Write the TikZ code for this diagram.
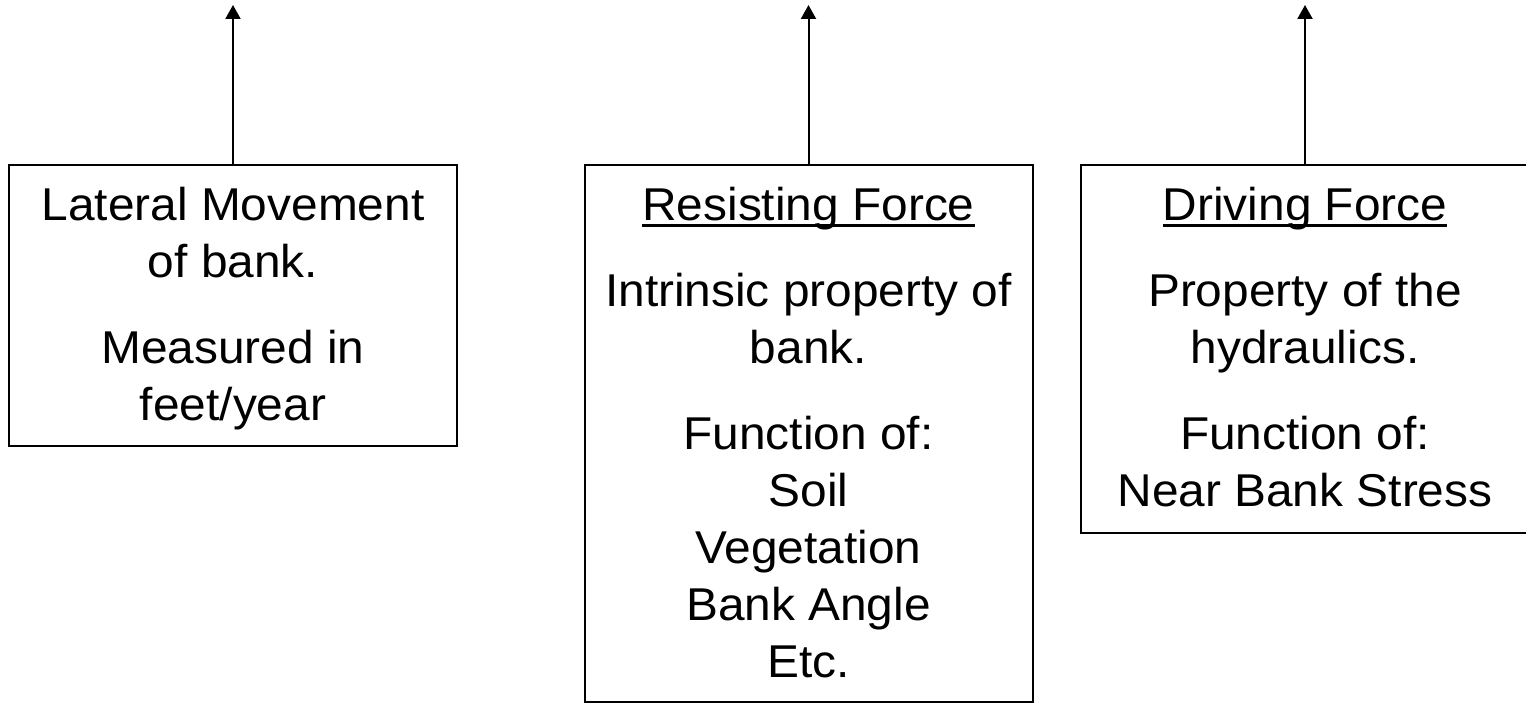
\documentclass[tikz,border=0pt]{standalone}
\usepackage{fontspec}
\setmainfont[FakeStretch=1.04]{Liberation Sans}
\usetikzlibrary{arrows.meta}
\usetikzlibrary{positioning}

\newcommand{\ulhead}[1]{\setbox0=\hbox{#1}\rlap{\rule[-3.2pt]{\wd0}{1.8pt}}\box0}

\begin{document}
\begin{tikzpicture}[x=0.5pt,y=-0.5pt]
        \useasboundingbox (0,0) rectangle (1526,704);
        \begin{scope}[every node/.style={rectangle,draw,line width=1pt,minimum width=224pt,anchor=north,inner sep=0pt}]
            \node[minimum height=140.5pt] (lateral) at (233,164) {};
            \node[minimum height=268.5pt] (resist) at (808.5,164) {};
            \node[minimum height=184pt] (drive) at (1305,164) {};
        \end{scope}
        \begin{scope}[every node/.style={align=center,inner sep=0pt,font=\fontsize{23}{28.5}\selectfont}]
            \node[below=11.5pt of lateral.north] (lateraltext) {Lateral Movement\\of bank.\\[14.5pt]Measured in\\feet/year};
            \node[below=11.5pt of resist.north] (resisttext) {\ulhead{Resisting Force}\\[14.5pt]Intrinsic property of\\bank.\\[14.5pt]Function of:\\Soil\\Vegetation\\Bank Angle\\Etc.};
            \node[below=11.5pt of drive.north] (drivetext) {\ulhead{Driving Force}\\[14.5pt]Property of the\\hydraulics.\\[14.5pt]Function of:\\Near Bank Stress};
        \end{scope}
        \coordinate (lateralup) at (233,5);
        \coordinate (resistup) at (808.5,5);
        \coordinate (driveup) at (1305,5);
        \begin{scope}[>={Triangle[length=7pt,width=7.5pt]},
            every edge/.style={draw=black,line width=1pt}]
                    \path[->] (lateral) edge node {} (lateralup);
                    \path[->] (resist) edge node {} (resistup);
                    \path[->] (drive) edge node {} (driveup);
        \end{scope}
    \end{tikzpicture}
\end{document}
